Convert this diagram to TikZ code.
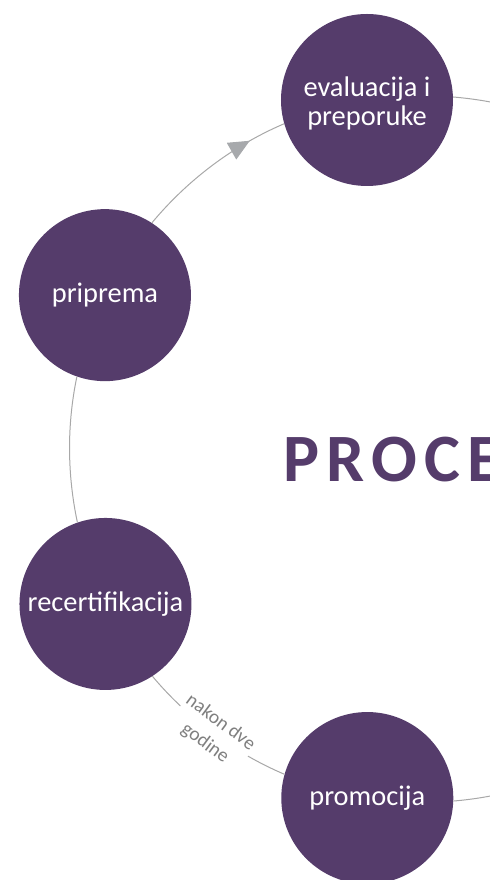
\documentclass[tikz,border=0pt]{standalone}
\usepackage{fontspec}
\setmainfont{Carlito}
\usetikzlibrary{arrows.meta,decorations.markings}
\definecolor{plum}{HTML}{553C6B}
\definecolor{linegray}{HTML}{A8A8A8}
\definecolor{tipgray}{HTML}{A7A9AC}
\definecolor{labelgray}{HTML}{7F7F7F}
\begin{document}
\begin{tikzpicture}[x=1bp,y=1bp,
  bubble/.style={circle,fill=plum,minimum size=172bp,inner sep=0pt,text=white,
    font=\fontsize{28.5}{30}\selectfont,align=center},
  link/.style={draw=linegray,line width=1bp},
  arrowmid/.style={postaction={decorate},decoration={markings,
    mark=at position 0.77 with {\arrow{Triangle[length=21bp,width=19bp,color=tipgray]}}}},
  lbl/.style={fill=white,text=labelgray,font=\fontsize{19.5}{26}\selectfont,
    align=center,inner sep=1.5bp,sloped},
  titletext/.style={text=plum,font=\fontsize{68}{76}\selectfont\bfseries\addfontfeature{LetterSpace=10.8},
    inner sep=0pt,anchor=base west}]
\useasboundingbox (0,0) rectangle (490,880);
\clip (0,0) rectangle (490,880);
\coordinate (C) at (423.2,431);
\path (C) ++(99.15:353.5bp) node[bubble] (E)
  {\raisebox{-26bp}[0pt][0pt]{\begin{tabular}[b]{@{}c@{}}evaluacija i\\preporuke\end{tabular}}};
\path (C) ++(154.2:353.5bp) node[bubble] (P) {priprema};
\path (C) ++(206.0:353.5bp) node[bubble] (R) {recertifikacija};
\path (C) ++(260.9:353.5bp) node[bubble] (M) {promocija};
\path (C) ++(75:353.5bp) coordinate (eo);
\path (C) ++(285:353.5bp) coordinate (mo);
\node[titletext] (T) at (283,398) {PROCE};
\draw[link] (R.109) to[out=102.03,in=258.17,looseness=0.86] (P.251);
\draw[link,arrowmid] (P.57) to[out=50.23,in=203.12,looseness=0.86] (E.196);
\draw[link] (M.164) to[out=156.93,in=309.97,looseness=0.86] node[lbl] (L) {nakon dve\\godine} (R.303);
\draw[link] (E.2) to[out=-4.82,in=165,looseness=0.86] (eo);
\draw[link] (mo) to[out=195,in=4.87,looseness=0.86] (M.358);
\end{tikzpicture}
\end{document}
